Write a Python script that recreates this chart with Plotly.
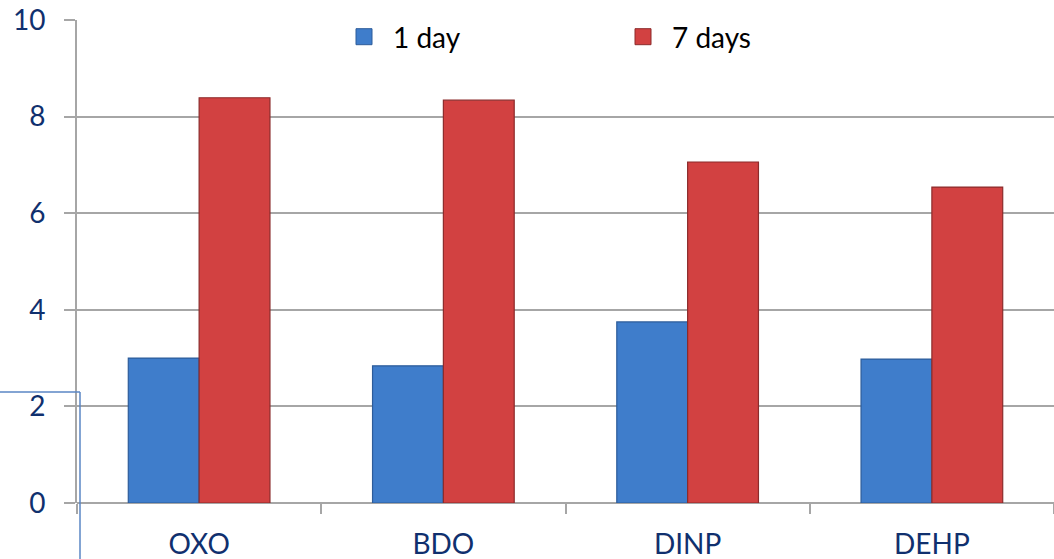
import plotly.graph_objects as go

# Sample groups and measured values
categories = ["OXO", "BDO", "DINP", "DEHP"]
day1 = [3.0, 2.84, 3.75, 2.98]
day7 = [8.39, 8.34, 7.06, 6.54]
series_names = ["1 day", "7 days"]
y_ticks = [0, 2, 4, 6, 8, 10]

W, H = 1054, 559
L, R, T, B = 77, 0, 20, 56
pw, ph = W - L - R, H - T - B

def px_x(p):
    return (p - L) / pw

def px_y(p):
    return (H - B - p) / ph

navy = "#10306E"
grid = "#A6A6A6"
font_family = "Lato, 'Open Sans', sans-serif"
fills = ["#3F7DCB", "#D24141"]
edges = ["#2D5C9A", "#8C2B2B"]

fig = go.Figure()
for name, vals, fc, ec in zip(series_names, [day1, day7], fills, edges):
    fig.add_trace(go.Bar(
        x=categories, y=vals, name=name, showlegend=False,
        marker=dict(color=fc, line=dict(color=ec, width=1.2)),
    ))
# legend keys with larger square swatches
for name, fc, ec in zip(series_names, fills, edges):
    fig.add_trace(go.Scatter(
        x=[None], y=[None], mode="markers", name=name,
        marker=dict(symbol="square", size=17, color=fc, line=dict(color=ec, width=1)),
    ))

fig.update_layout(
    width=W, height=H,
    margin=dict(l=L, r=R, t=T, b=B, pad=0),
    paper_bgcolor="white", plot_bgcolor="white",
    barmode="group", bargap=0.42, bargroupgap=0,
    font=dict(family=font_family, color=navy, size=28),
    showlegend=True,
    legend=dict(
        orientation="h", x=px_x(335), y=px_y(12), xanchor="left", yanchor="top",
        bgcolor="rgba(0,0,0,0)", font=dict(color="black", size=28),
        entrywidth=216, entrywidthmode="pixels", itemwidth=48,
    ),
    xaxis=dict(
        showgrid=False, showline=False, ticks="outside", tickson="boundaries",
        ticklen=10, tickwidth=2, tickcolor=grid, ticklabelstandoff=22,
        tickfont=dict(size=28, color=navy),
    ),
    yaxis=dict(
        range=[0, 10], tickvals=y_ticks, showgrid=True, gridcolor=grid, gridwidth=2,
        showline=True, linecolor=grid, linewidth=2, zeroline=True, zerolinecolor=grid,
        zerolinewidth=2, ticks="outside", ticklen=11, tickwidth=2, tickcolor=grid,
        ticklabelstandoff=13, tickfont=dict(size=28, color=navy),
    ),
    shapes=[
        # white boxes behind the legend labels
        dict(type="rect", xref="paper", yref="paper", layer="above",
             x0=px_x(373), x1=px_x(494), y0=px_y(24), y1=px_y(16),
             fillcolor="white", line=dict(width=0)),
        dict(type="rect", xref="paper", yref="paper", layer="above",
             x0=px_x(660), x1=px_x(781), y0=px_y(24), y1=px_y(16),
             fillcolor="white", line=dict(width=0)),
        # thin blue frame in the lower-left corner
        dict(type="line", xref="paper", yref="paper",
             x0=px_x(0), x1=px_x(80), y0=px_y(392), y1=px_y(392),
             line=dict(color="#5A86C4", width=1.5)),
        dict(type="line", xref="paper", yref="paper",
             x0=px_x(80), x1=px_x(80), y0=px_y(392), y1=px_y(560),
             line=dict(color="#5A86C4", width=1.5)),
    ],
)

fig.write_html("out.html")
